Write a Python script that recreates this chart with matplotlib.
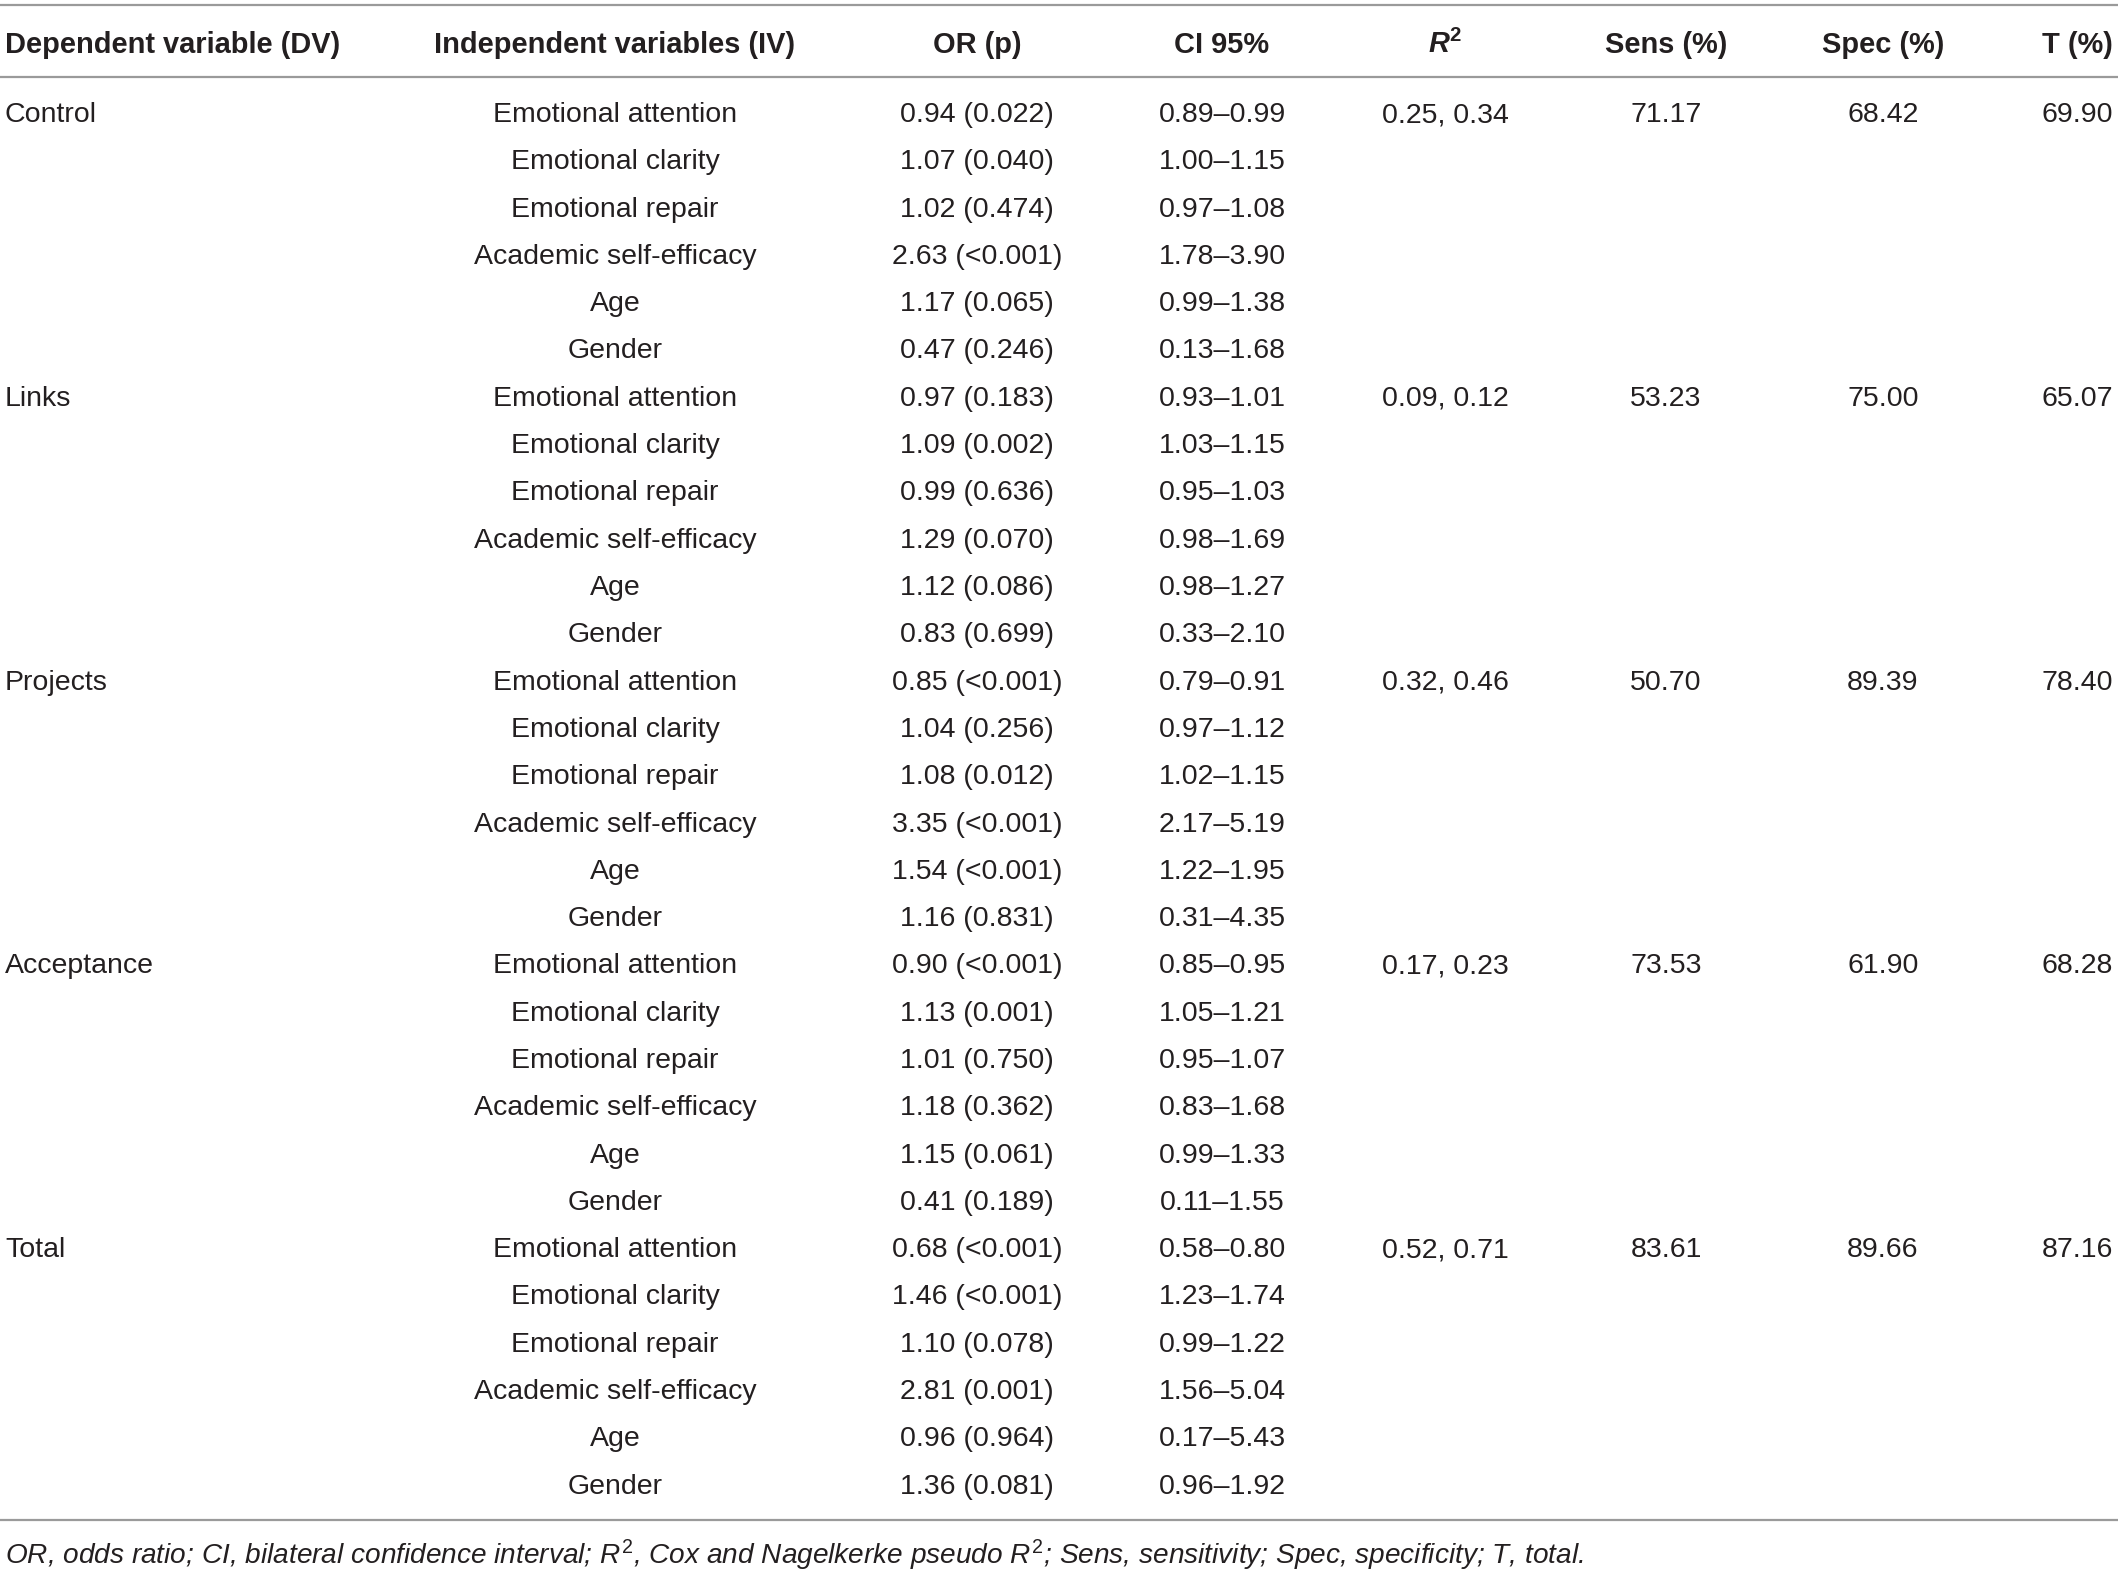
import matplotlib.pyplot as plt

# table contents
dv_names = ['Control', 'Links', 'Projects', 'Acceptance', 'Total']
iv_names = ['Emotional attention', 'Emotional clarity', 'Emotional repair',
            'Academic self-efficacy', 'Age', 'Gender']

odds = [
    [0.94, 1.07, 1.02, 2.63, 1.17, 0.47],
    [0.97, 1.09, 0.99, 1.29, 1.12, 0.83],
    [0.85, 1.04, 1.08, 3.35, 1.54, 1.16],
    [0.90, 1.13, 1.01, 1.18, 1.15, 0.41],
    [0.68, 1.46, 1.10, 2.81, 0.96, 1.36],
]
p_vals = [
    ['0.022', '0.040', '0.474', '<0.001', '0.065', '0.246'],
    ['0.183', '0.002', '0.636', '0.070', '0.086', '0.699'],
    ['<0.001', '0.256', '0.012', '<0.001', '<0.001', '0.831'],
    ['<0.001', '0.001', '0.750', '0.362', '0.061', '0.189'],
    ['<0.001', '<0.001', '0.078', '0.001', '0.964', '0.081'],
]
ci_low = [
    [0.89, 1.00, 0.97, 1.78, 0.99, 0.13],
    [0.93, 1.03, 0.95, 0.98, 0.98, 0.33],
    [0.79, 0.97, 1.02, 2.17, 1.22, 0.31],
    [0.85, 1.05, 0.95, 0.83, 0.99, 0.11],
    [0.58, 1.23, 0.99, 1.56, 0.17, 0.96],
]
ci_high = [
    [0.99, 1.15, 1.08, 3.90, 1.38, 1.68],
    [1.01, 1.15, 1.03, 1.69, 1.27, 2.10],
    [0.91, 1.12, 1.15, 5.19, 1.95, 4.35],
    [0.95, 1.21, 1.07, 1.68, 1.33, 1.55],
    [0.80, 1.74, 1.22, 5.04, 5.43, 1.92],
]
r2_cox = [0.25, 0.09, 0.32, 0.17, 0.52]
r2_nag = [0.34, 0.12, 0.46, 0.23, 0.71]
sens = [71.17, 53.23, 50.70, 73.53, 83.61]
spec = [68.42, 75.00, 89.39, 61.90, 89.66]
total = [69.90, 65.07, 78.40, 68.28, 87.16]

headers = ['Dependent variable (DV)', 'Independent variables (IV)', 'OR (p)',
           'CI 95%', r'$\mathbfit{R}^{\mathbf{2}}$', 'Sens (%)', 'Spec (%)', 'T (%)']
footnote = (r'OR, odds ratio; CI, bilateral confidence interval; $R^{2}$, '
            r'Cox and Nagelkerke pseudo $R^{2}$; Sens, sensitivity; '
            r'Spec, specificity; T, total.')

plt.rcParams['font.family'] = ['Liberation Sans', 'DejaVu Sans']
plt.rcParams['mathtext.fontset'] = 'custom'
plt.rcParams['mathtext.rm'] = 'Liberation Sans'
plt.rcParams['mathtext.it'] = 'Liberation Sans:italic'
plt.rcParams['mathtext.bf'] = 'Liberation Sans:bold'
plt.rcParams['mathtext.bfit'] = 'Liberation Sans:italic:bold'

txt = '#231f20'
rule = '#9a9a9a'
fs = 20.5

fig = plt.figure(figsize=(21.18, 15.75), dpi=100)
ax = fig.add_axes([0, 0, 1, 1])
ax.set_xlim(0, 2118)
ax.set_ylim(1575, 0)
ax.axis('off')

# column x positions and alignment
col_x = [5, 615, 977, 1222, 1445, 1666, 1883, 2077]
col_ha = ['left'] + ['center'] * 7

# rules
for y in [5, 77, 1520]:
    ax.axhline(y, color=rule, lw=1.6)

# header
for x, ha, h in zip(col_x, col_ha, headers):
    ax.text(x, 53, h, ha=ha, va='baseline', fontsize=20.9, fontweight='bold', color=txt)

# body
y0 = 122
dy = 47.3
for g, dv in enumerate(dv_names):
    for k, iv in enumerate(iv_names):
        y = y0 + (g * len(iv_names) + k) * dy
        cells = ['', iv,
                 f'{odds[g][k]:.2f} ({p_vals[g][k]})',
                 f'{ci_low[g][k]:.2f}\u2013{ci_high[g][k]:.2f}']
        if k == 0:
            cells[0] = dv
            cells += [f'{r2_cox[g]:.2f}, {r2_nag[g]:.2f}',
                      f'{sens[g]:.2f}', f'{spec[g]:.2f}', f'{total[g]:.2f}']
        for x, ha, c in zip(col_x, col_ha, cells):
            if c:
                ax.text(x, y, c, ha=ha, va='baseline', fontsize=fs, color=txt)

ax.text(5, 1564, footnote, ha='left', va='baseline', fontsize=20.2,
        fontstyle='italic', color=txt)

fig.savefig('out.png', dpi=100)
